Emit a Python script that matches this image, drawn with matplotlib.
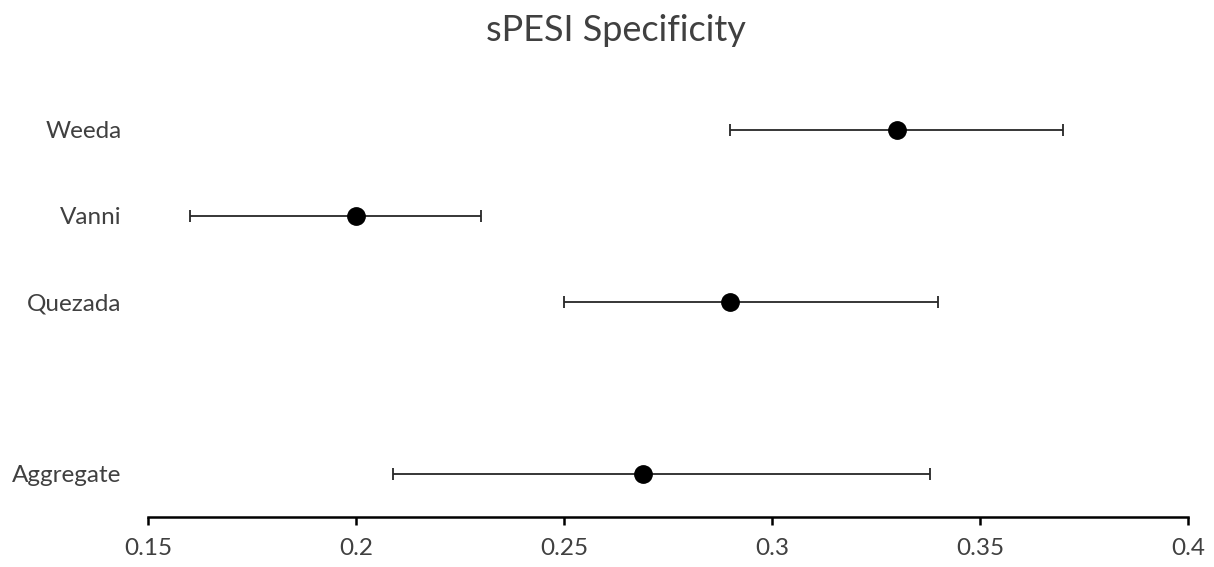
import matplotlib.pyplot as plt

# Datos
estudios = ["Weeda", "Vanni", "Quezada", "Aggregate"]
posiciones = [5, 4, 3, 1]
especificidad = [0.33, 0.20, 0.29, 0.269]
ic_bajo = [0.29, 0.16, 0.25, 0.209]
ic_alto = [0.37, 0.23, 0.34, 0.338]

xticks = [0.15, 0.2, 0.25, 0.3, 0.35, 0.4]
xtick_labels = ["0.15", "0.2", "0.25", "0.3", "0.35", "0.4"]

plt.rcParams["font.family"] = ["Lato", "DejaVu Sans"]
gris = "#404040"

fig = plt.figure(figsize=(12.14, 5.67), dpi=100)
ax = fig.add_axes([148 / 1214, 50 / 567, 1040 / 1214, 430 / 567])

err = [[e - b for e, b in zip(especificidad, ic_bajo)],
       [a - e for e, a in zip(especificidad, ic_alto)]]
ax.errorbar(especificidad, posiciones, xerr=err, fmt="o", color="black",
            ecolor="#262626", elinewidth=1.3, capsize=4.5, capthick=1.3,
            markersize=12.5, zorder=3)

ax.set_xlim(0.15, 0.4)
ax.set_ylim(0.5, 5.5)
ax.set_xticks(xticks)
ax.set_xticklabels(xtick_labels, fontsize=17.5, color=gris)
ax.tick_params(axis="x", direction="out", length=6, width=1.8, color="black", pad=9)

ax.set_yticks(posiciones)
ax.set_yticklabels(estudios, fontsize=17.5, color=gris)
ax.tick_params(axis="y", length=0, pad=19)

for lado in ["top", "right", "left"]:
    ax.spines[lado].set_visible(False)
ax.spines["bottom"].set_linewidth(1.8)
ax.spines["bottom"].set_color("black")

fig.suptitle("sPESI Specificity", fontsize=26, color=gris, x=0.507, y=0.975)

plt.savefig("out.png")
